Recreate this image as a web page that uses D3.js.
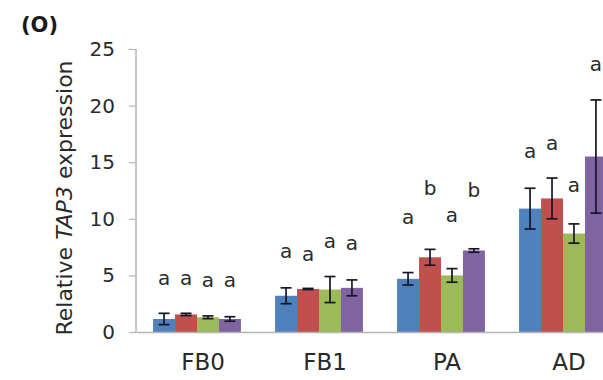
<!DOCTYPE html>
<html>
<head>
<meta charset="utf-8">
<script src="https://cdn.jsdelivr.net/npm/d3@7"></script>
<style>
  body { margin: 0; background: #fff; }
  svg { display: block; font-family: "DejaVu Sans", sans-serif; }
</style>
</head>
<body>
<div class="bar-container"></div>
<script>
// categories on the x axis
var categories = ["FB0", "FB1", "PA", "AD"];
var yTicks = [0, 5, 10, 15, 20, 25];

// mean values, one array per series
var s1Mean = [1.15, 3.2, 4.7, 10.9];
var s2Mean = [1.55, 3.8, 6.6, 11.8];
var s3Mean = [1.3, 3.75, 5.0, 8.7];
var s4Mean = [1.15, 3.9, 7.2, 15.5];

// error bars (+/-)
var s1Err = [0.5, 0.7, 0.55, 1.8];
var s2Err = [0.1, 0.05, 0.7, 1.8];
var s3Err = [0.12, 1.15, 0.6, 0.85];
var s4Err = [0.2, 0.7, 0.15, 5.0];

// significance letters and the level (in y units) where they sit
var s1Letter = ["a", "a", "a", "a"];
var s2Letter = ["a", "a", "b", "a"];
var s3Letter = ["a", "a", "a", "a"];
var s4Letter = ["a", "a", "b", "a"];
var s1LetterAt = [4.15, 6.5, 9.5, 15.4];
var s2LetterAt = [4.15, 6.3, 12.1, 16.1];
var s3LetterAt = [3.97, 7.45, 9.7, 12.4];
var s4LetterAt = [3.97, 7.2, 11.9, 23.1];

var colors = ["#4f81bd", "#c0504d", "#9bbb59", "#8064a2"];

var width = 603, height = 380;
var svg = d3.select(".bar-container").append("svg")
    .attr("width", width)
    .attr("height", height);

var series = [
    {mean: s1Mean, err: s1Err, letter: s1Letter, at: s1LetterAt},
    {mean: s2Mean, err: s2Err, letter: s2Letter, at: s2LetterAt},
    {mean: s3Mean, err: s3Err, letter: s3Letter, at: s3LetterAt},
    {mean: s4Mean, err: s4Err, letter: s4Letter, at: s4LetterAt}
];

// flatten into one row per bar
var rows = [];
series.forEach(function(s, si){
    categories.forEach(function(c, ci){
        rows.push({cat: c, si: si, v: s.mean[ci], e: s.err[ci], letter: s.letter[ci], at: s.at[ci]});
    });
});

// scales
var xScale = d3.scaleBand()
    .domain(categories)
    .range([136, 624])
    .paddingInner(0.28)
    .paddingOuter(0.14);
var xSub = d3.scaleBand()
    .domain(d3.range(series.length))
    .range([0, xScale.bandwidth()]);
var yScale = d3.scaleLinear()
    .domain([0, 25])
    .range([332, 49]);

// bars
svg.append("g").selectAll("rect")
    .data(rows)
    .enter().append("rect")
    .attr("x", function(d){ return xScale(d.cat) + xSub(d.si); })
    .attr("y", function(d){ return yScale(d.v); })
    .attr("width", xSub.bandwidth())
    .attr("height", function(d){ return yScale(0) - yScale(d.v); })
    .attr("fill", function(d){ return colors[d.si]; });

// error bars
var eb = svg.append("g")
    .attr("stroke", "#161628")
    .attr("stroke-width", 1.7)
    .selectAll("g")
    .data(rows)
    .enter().append("g")
    .attr("transform", function(d){ return "translate(" + (xScale(d.cat) + xSub(d.si) + xSub.bandwidth() / 2) + ",0)"; });
eb.append("line")
    .attr("y1", function(d){ return yScale(d.v - d.e); })
    .attr("y2", function(d){ return yScale(d.v + d.e); });
eb.append("line")
    .attr("x1", -5.5).attr("x2", 5.5)
    .attr("y1", function(d){ return yScale(d.v + d.e); })
    .attr("y2", function(d){ return yScale(d.v + d.e); });
eb.append("line")
    .attr("x1", -5.5).attr("x2", 5.5)
    .attr("y1", function(d){ return yScale(d.v - d.e); })
    .attr("y2", function(d){ return yScale(d.v - d.e); });

// letters
svg.append("g").selectAll("text")
    .data(rows)
    .enter().append("text")
    .attr("x", function(d){ return xScale(d.cat) + xSub(d.si) + xSub.bandwidth() / 2; })
    .attr("y", function(d){ return yScale(d.at); })
    .attr("text-anchor", "middle")
    .attr("font-size", 20)
    .attr("fill", "#2a2a2a")
    .text(function(d){ return d.letter; });

// y axis
var yAxis = d3.axisLeft(yScale)
    .tickValues(yTicks)
    .tickSize(7)
    .tickPadding(14);
var gy = svg.append("g")
    .attr("class", "y-axis")
    .attr("transform", "translate(136,0)")
    .call(yAxis);
gy.select(".domain").attr("stroke", "#b5b5b5").attr("stroke-width", 1.5).attr("d", "M0,49V332");
gy.selectAll("line").attr("stroke", "#b5b5b5").attr("stroke-width", 1.2);
gy.selectAll("text").attr("font-size", 20).attr("fill", "#2a2a2a").attr("font-family", "DejaVu Sans");

// x axis baseline and category labels
var xAxis = d3.axisBottom(xScale).tickSize(0).tickPadding(22);
var gx = svg.append("g")
    .attr("class", "x-axis")
    .attr("transform", "translate(0,332)")
    .call(xAxis);
gx.select(".domain").attr("stroke", "#b5b5b5").attr("stroke-width", 1.5);
gx.selectAll("text")
    .attr("font-size", 23)
    .attr("fill", "#2a2a2a")
    .attr("font-family", "DejaVu Sans")
    .attr("dx", 6);

// y title
var title = svg.append("text")
    .attr("transform", "translate(72,198) rotate(-90)")
    .attr("text-anchor", "middle")
    .attr("font-size", 22)
    .attr("fill", "#2a2a2a");
title.append("tspan").text("Relative ");
title.append("tspan").attr("font-style", "italic").text("TAP3");
title.append("tspan").text(" expression");

// panel label
svg.append("text")
    .attr("x", 21)
    .attr("y", 32)
    .attr("font-size", 21)
    .attr("font-weight", "bold")
    .attr("fill", "#1a1a1a")
    .text("(O)");
</script>
</body>
</html>
